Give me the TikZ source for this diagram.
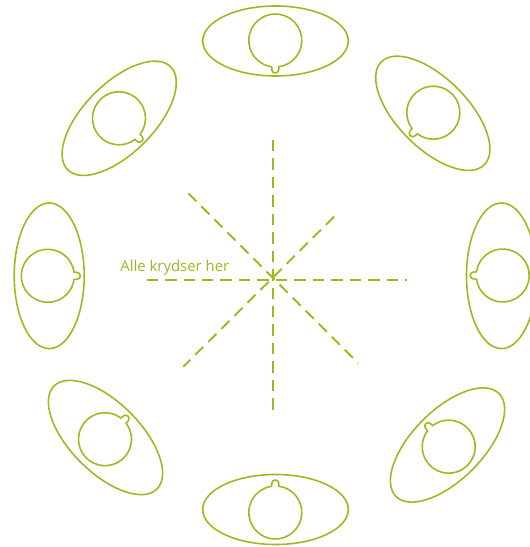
\documentclass[tikz,border=0pt]{standalone}
\usepackage{fontspec}
\newfontfamily\labelfont{Open Sans}
\usepackage{tikz}
\usetikzlibrary{positioning, calc}
\definecolor{leaf}{RGB}{160,184,30}

\begin{document}
\begin{tikzpicture}[
    x=0.02cm, y=0.02cm,
    ring/.style  = {draw=leaf, line width=0.9pt},
    cross/.style = {draw=leaf, line width=1.1pt, dash pattern=on 6.5pt off 4pt},
    note/.style  = {text=leaf, font=\labelfont\fontsize{8.5}{10}\selectfont, inner sep=0pt, anchor=base west},
    head/.pic    = {
      \draw[ring] (8:26.5) arc[start angle=8, end angle=352, radius=26.5]
        .. controls (27.5,-3.5) and (32.5,-4) .. (32.5,0)
        .. controls (32.5,4) and (27.5,3.5) .. cycle;
    }
]
\useasboundingbox (0,0) rectangle (530,547);
% seats round the table: ellipse centre / tilt / head centre / facing
\foreach \e/\r/\h/\n [count=\i] in {
    {275.5,506}/0/{275.3,506.5}/-90,
    {432.8,433.7}/-45/{433.3,434.3}/225,
    {501.5,271.2}/90/{502.7,271.5}/180,
    {447.5,102}/45/{448.7,100.3}/135,
    {275.5,37.5}/0/{275.3,34.5}/90,
    {105.5,109.5}/-45/{105,107.8}/45,
    {49.2,271.2}/90/{47.8,271.2}/0,
    {119.2,428.7}/45/{119,428.7}/-45} {
  \coordinate (e\i) at (\e);
  \coordinate (h\i) at (\h);
  \draw[ring, rotate around={\r:(e\i)}] (e\i) ellipse[x radius=72.8, y radius=35];
  \pic[rotate=\n] at (h\i) {head};
}
% the crossing lines
\coordinate (vt) at (273.3,407);   \coordinate (vb) at (273.3,135.3);
\coordinate (hl) at (146.7,267);   \coordinate (hr) at (406.7,267);
\coordinate (da) at (188.3,353.7); \coordinate (db) at (358.3,183.7);
\coordinate (dc) at (334,330.3);   \coordinate (dd) at (183.3,180.3);
\foreach \a/\b in {vt/vb, hl/hr, da/db, dc/dd}
  \draw[cross] (\a) -- (\b);
\node[note] (lbl) at (120,275.3) {Alle krydser her};
\end{tikzpicture}
\end{document}
